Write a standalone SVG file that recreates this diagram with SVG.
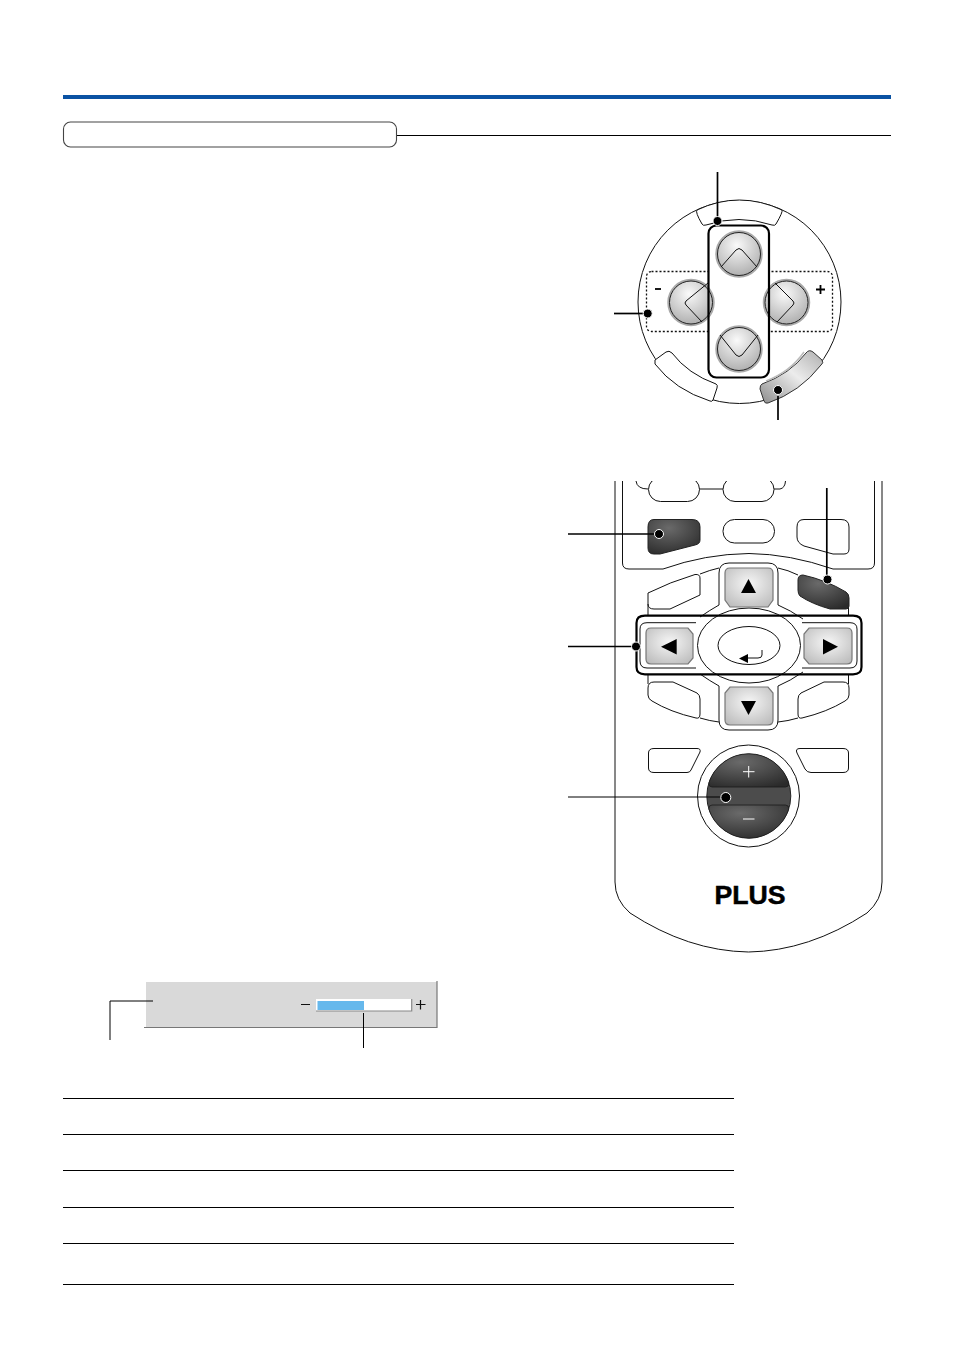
<svg xmlns="http://www.w3.org/2000/svg" width="954" height="1348" viewBox="0 0 954 1348">
<style>
.o{fill:#fff;stroke:#111;stroke-width:1}
.n{fill:none;stroke:#111;stroke-width:1}
.k{fill:none;stroke:#000;stroke-width:2.200}
.b{fill:url(#lg);stroke:#222;stroke-width:1}
.h{fill:none;stroke:#aaa;stroke-width:2.500}
.d{fill:url(#dk);stroke:#222;stroke-width:1}
.l{fill:none;stroke:#000;stroke-width:1.700}
.t{fill:none;stroke:#000;stroke-width:1}
.sq{fill:url(#sq);stroke:#777;stroke-width:1.200}
.dot{fill:#000;stroke:#fff;stroke-width:1}
</style>
<defs>
<radialGradient id="lg" cx="0.45" cy="0.3" r="0.8"><stop offset="0" stop-color="#fafafa"/><stop offset="1" stop-color="#a6a6a6"/></radialGradient>
<radialGradient id="dk" cx="0.4" cy="0.25" r="0.85"><stop offset="0" stop-color="#6a6a6a"/><stop offset="1" stop-color="#2a2a2a"/></radialGradient>
<radialGradient id="sq" cx="0.5" cy="0.4" r="0.75"><stop offset="0" stop-color="#f6f6f6"/><stop offset="1" stop-color="#b8b8b8"/></radialGradient>
<linearGradient id="sw" x1="0" y1="1" x2="1" y2="0"><stop offset="0" stop-color="#8c8c8c"/><stop offset="0.55" stop-color="#ececec"/><stop offset="1" stop-color="#aeaeae"/></linearGradient>
<clipPath id="topclip"><rect x="600" y="481" width="300" height="480"/></clipPath>
</defs>
<g id="header">
<rect x="63" y="95" width="828" height="4" fill="#0a52a3"/>
<path class="t" d="M396 135.500H891"/>
<rect x="63.500" y="122" width="333" height="25" rx="7" fill="#fff" stroke="#444" stroke-width="1.100"/>
</g>
<g id="pad-controller">
<circle class="o" cx="739.500" cy="302" r="101.500"/>
<path class="o" d="M697 210Q739 190 782 210Q783 212 776 224Q775 226 772 225Q739 214 706 225Q703 226 702 224Q695 212 697 210Z"/>
<path class="o" d="M655 360L666 352Q669 350 672 353Q688 374 716 384Q718 385 717 388L713 400Q712 402 710 401Q675 390 655 364Z"/>
<path d="M762 384Q790 374 806 353Q809 349 813 352L822 360Q824 363 821 365Q800 392 768 403Q765 404 764 401L760 389Q760 385 762 384Z" fill="url(#sw)" stroke="#333"/>
<path d="M766 381Q790 372 804 352" fill="none" stroke="#bbb" stroke-width="1.500"/>
<rect x="646.500" y="271.500" width="186" height="60" rx="5" fill="none" stroke="#111" stroke-width="1.300" stroke-dasharray="2 2"/>
<rect x="708.500" y="225.500" width="60.500" height="152" rx="8" fill="#fff"/>
<g id="pad-up"><circle class="h" cx="739" cy="254" r="22.500"/><circle class="b" cx="739" cy="254" r="21.500"/><path class="n" d="M721 267L736 250Q739 247 742 250L757 267"/></g>
<g id="pad-down"><circle class="h" cx="739" cy="349" r="22.500"/><circle class="b" cx="739" cy="349" r="21.500"/><path class="n" d="M720 335L736 355Q739 358 742 355L758 335"/></g>
<g id="pad-left"><circle class="h" cx="691" cy="302.500" r="22.500"/><circle class="b" cx="691" cy="302.500" r="21.500"/><path class="n" d="M708 283L686 301Q684 303 686 305L702 322"/></g>
<g id="pad-right"><circle class="h" cx="786.500" cy="302.500" r="22.500"/><circle class="b" cx="786.500" cy="302.500" r="21.500"/><path class="n" d="M775 283L793 301Q795 303 793 305L777 322"/></g>
<rect class="k" x="708.500" y="225.500" width="60.500" height="152" rx="8"/>
<path d="M655 289H661" stroke="#000" stroke-width="1.800"/>
<path d="M816 289.500H825M820.500 285V294" stroke="#000" stroke-width="1.800"/>
</g>
<g id="remote" clip-path="url(#topclip)">
<path class="n" d="M615 481V882Q615 900 630 913Q688 951 748.500 952Q809 951 867 913Q882 900 882 882V481"/>
<path class="n" d="M622.500 481V563Q622.500 569 629 569H663Q705 554 749 553.500Q790 554 833 569H868Q874.500 569 874.500 563V481"/>
<path class="n" d="M636 481Q637 489 648 489M699 489H723M774 489H780Q785 488 785.500 481"/>
<rect class="o" x="648.500" y="477.500" width="51" height="24" rx="12"/>
<rect class="o" x="723" y="477.500" width="51" height="24" rx="12"/>
<rect class="o" x="723" y="519.500" width="51.500" height="23.500" rx="11.500"/>
<path class="o" d="M804 519.500H841Q849 519.500 849 527V549Q849 554 844 554H833L804 546Q797 543 797 537V527Q797 519.500 804 519.500Z"/>
<path class="d" d="M654 519.500H692Q700 519.500 700 527V540Q700 544 695 545L660 554H654Q648 554 648 548V527Q648 519.500 654 519.500Z"/>
<path class="o" d="M648 593Q670 582 695 574.500Q700 574 700 578V595L670 609H654Q648 609 648 604Z"/>
<path class="n" d="M648 604V616M648 674V684M848.500 604V616M848.500 674V684"/>
<path class="d" d="M803 575Q826 580 846 592Q849 594 849 598V606Q849 609 846 609H830Q812 604 800 596Q798 594 798 590V580Q798 575 803 575Z"/>
<path class="o" d="M654 682H673L697 693Q700 695 700 699V714Q700 719 696 718Q670 712 652 701Q648 699 648 695V688Q648 682 654 682Z"/>
<path class="o" d="M843 682H824L801 693Q798 695 798 699V714Q798 719 802 718Q827 712 845 701Q849 699 849 695V688Q849 682 843 682Z"/>
<path class="n" d="M700 574Q710 570 719 568M778 568Q788 570 798 575M700 718Q710 721 719 722M778 722Q788 721 798 718"/>
<path d="M700 617Q710 610 719 605V573Q719 563 729 563H768Q778 563 778 573V605Q790 610 803 619V672Q790 681 778 686V720Q778 730 768 730H729Q719 730 719 720V686Q710 681 700 674Z" fill="#fff"/>
<path class="n" d="M700 617Q710 610 719 605V573Q719 563 729 563H768Q778 563 778 573V605Q790 610 803 619M803 672Q790 681 778 686V720Q778 730 768 730H729Q719 730 719 720V686Q710 681 700 674"/>
<path class="n" d="M696 622.700H647Q640 622.700 640 629V661Q640 668 647 668H696M802 622.700H850Q857 622.700 857 629V661Q857 668 850 668H802"/>
<ellipse class="o" cx="749" cy="645.500" rx="51.500" ry="37.500"/>
<path class="k" stroke-width="1.800" d="M645 615.700H853Q861.500 615.700 861.500 623V667Q861.500 674.300 853 674.300H645Q636.500 674.300 636.500 667V623Q636.500 615.700 645 615.700Z"/>
<ellipse class="o" cx="749" cy="645.500" rx="31" ry="19"/>
<path class="n" stroke-width="1.300" d="M762 650V655Q762 658 758 658H746"/>
<path d="M739 658.500L748 654V663Z" fill="#000"/>
<path class="sq" d="M730 568H768Q773 568 773 573V600L768 607H730L725 600V573Q725 568 730 568Z"/>
<path d="M748.500 579L756 593H741Z" fill="#000"/>
<path class="sq" d="M730 687H768L773 693V720Q773 725 768 725H730Q725 725 725 720V693Z"/>
<path d="M748.500 715L741 701H756Z" fill="#000"/>
<path class="sq" d="M651 628H688L693 634V658L688 664H651Q646 664 646 659V633Q646 628 651 628Z"/>
<path d="M661 646.700L676.700 639V654.500Z" fill="#000"/>
<path class="sq" d="M809 628H847Q852 628 852 633V659Q852 664 847 664H809L804 658V634Z"/>
<path d="M838 646.700L823 639V654.500Z" fill="#000"/>
<path class="o" d="M654 748.500H697Q701 748.500 700 752L691 770Q690 772.500 687 772.500H654Q648.500 772.500 648.500 768V753Q648.500 748.500 654 748.500Z"/>
<path class="o" d="M843 748.500H800Q795 748.500 797 753L805 769Q807 772.500 811 772.500H843Q848.500 772.500 848.500 768V753Q848.500 748.500 843 748.500Z"/>
<circle class="o" cx="748.500" cy="796" r="51"/>
<circle cx="748.800" cy="796" r="42" fill="#4c4c4c" stroke="#222"/>
<path d="M712 787Q708.500 787 708.800 783A42 42 0 0 1 788.800 783Q789 787 785.500 787Z" fill="url(#dk)" stroke="#1a1a1a" stroke-width="0.800"/>
<path d="M712 805Q708.500 805 708.800 809A42 42 0 0 0 788.800 809Q789 805 785.500 805Z" fill="url(#dk)" stroke="#1a1a1a" stroke-width="0.800"/>
<path d="M743 771.700H754.500M748.700 766V777.500M743 819H754.500" stroke="#fff" stroke-width="1"/>
<text x="714.500" y="903.500" font-family="Liberation Sans, Arial, sans-serif" font-size="25.500" font-weight="700" fill="#000" stroke="#000" stroke-width="0.500" textLength="71" lengthAdjust="spacingAndGlyphs">PLUS</text>
</g>
<g id="osd-bar">
<rect x="146" y="982" width="291" height="45.500" fill="#d9d9d9"/>
<path d="M144 1027.500H437V981" fill="none" stroke="#777" stroke-width="1.200"/>
<path d="M301 1004.500H310M416 1004.500H425.500M420.500 1000V1009.500" stroke="#111" stroke-width="1.200"/>
<rect x="316" y="999" width="96" height="12" fill="#fff"/>
<rect x="317.500" y="1001" width="46.500" height="9" fill="#66b8ec"/>
<path d="M316 1011H411.700V999" fill="none" stroke="#888" stroke-width="1.200"/>
</g>
<g id="connectors">
<path class="l" d="M717.500 172V220"/><circle class="dot" cx="717.500" cy="221" r="4.500"/>
<path class="l" d="M614 313.500H646"/><circle class="dot" cx="647.700" cy="313.500" r="4.500"/>
<path class="l" d="M778 396V420"/><circle class="dot" cx="778" cy="390" r="4.500"/>
<path class="l" d="M826.800 488V578"/><circle class="dot" cx="827.500" cy="579.500" r="4.500"/>
<path class="l" d="M568 534H658"/><circle class="dot" cx="659" cy="534" r="4.500"/>
<path class="l" d="M568 646.500H635"/><circle class="dot" cx="636" cy="646.500" r="4.500"/>
<path class="t" d="M568 797H725" stroke-width="1.300"/><circle class="dot" cx="725.800" cy="797.500" r="5"/>
<path class="t" d="M110 1040V1001H153" stroke-width="1.200"/>
<path class="t" d="M363.500 1013V1048" stroke-width="1.200"/>
</g>
<g id="table-rules">
<path class="t" d="M63 1098.500H734M63 1134.500H734M63 1170.500H734M63 1207.500H734M63 1243.500H734M63 1284.500H734"/>
</g>
</svg>
